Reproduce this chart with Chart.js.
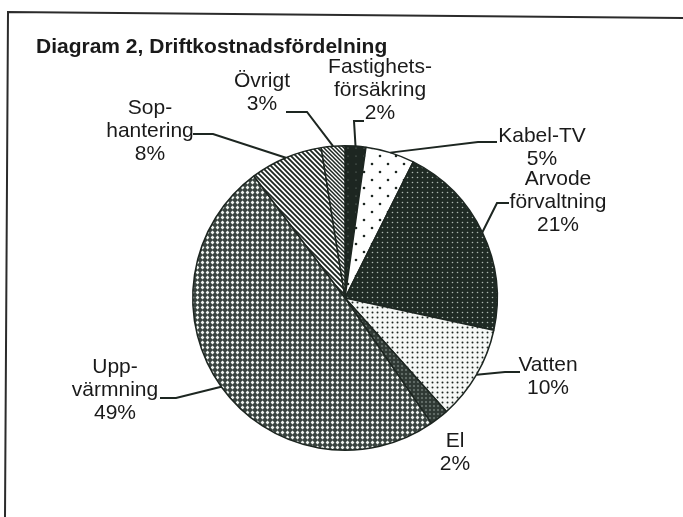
<!DOCTYPE html>
<html>
<head>
<meta charset="utf-8">
<script src="https://cdn.jsdelivr.net/npm/chart.js@4.4.0/dist/chart.umd.min.js"></script>
<style>
    html, body { margin: 0; padding: 0; background: #ffffff; }
    #driftChart { display: block; }
</style>
</head>
<body>
<canvas id="driftChart" width="683" height="517"></canvas>
<script>
// data
var categories = ['Fastighetsförsäkring', 'Kabel-TV', 'Arvode förvaltning', 'Vatten', 'El', 'Uppvärmning', 'Sophantering', 'Övrigt'];
var shares = [2.2, 5.2, 21.0, 10.0, 2.0, 49.4, 7.7, 2.5];
var percentLabels = ['2%', '5%', '21%', '10%', '2%', '49%', '8%', '3%'];
var labelLines = [
    ['Fastighets-', 'försäkring'],
    ['Kabel-TV'],
    ['Arvode', 'förvaltning'],
    ['Vatten'],
    ['El'],
    ['Upp-', 'värmning'],
    ['Sop-', 'hantering'],
    ['Övrigt'],
];
var chartTitle = 'Diagram 2, Driftkostnadsfördelning';

// where each label sits: text centre x, first line y, leader elbow and text-side end
var labelLayout = [
    { tx: 380, ty: 67, ex: 354, ey: 121, hx: 364 },
    { tx: 542, ty: 136, ex: 478, ey: 142, hx: 497 },
    { tx: 558, ty: 179, ex: 497, ey: 203, hx: 509 },
    { tx: 548, ty: 365, ex: 505, ey: 372, hx: 520 },
    { tx: 455, ty: 441, ex: null },
    { tx: 115, ty: 367, ex: 176, ey: 398, hx: 160 },
    { tx: 150, ty: 108, ex: 213, ey: 134, hx: 193 },
    { tx: 262, ty: 81, ex: 307, ey: 112, hx: 286 },
];

var ink = '#1d2621';

function makeTile(size, draw) {
    var c = document.createElement('canvas');
    c.width = size;
    c.height = size;
    var t = c.getContext('2d');
    draw(t, size);
    return document.createElement('canvas').getContext('2d').createPattern(c, 'repeat');
}

function dotTile(size, bg, fg, r, pts) {
    return makeTile(size, function (t, s) {
        t.fillStyle = bg;
        t.fillRect(0, 0, s, s);
        t.fillStyle = fg;
        pts.forEach(function (p) {
            t.beginPath();
            t.arc(p[0], p[1], r, 0, Math.PI * 2);
            t.fill();
        });
    });
}

function stripeTile(size, width) {
    return makeTile(size, function (t, s) {
        t.fillStyle = '#ffffff';
        t.fillRect(0, 0, s, s);
        t.strokeStyle = ink;
        t.lineWidth = width;
        t.beginPath();
        for (var k = -s; k <= s; k += s) {
            t.moveTo(k - 1, -1);
            t.lineTo(k + s + 1, s + 1);
        }
        t.stroke();
    });
}

function diamondTile(size, bg, fg, r) {
    return makeTile(size, function (t, s) {
        t.fillStyle = bg;
        t.fillRect(0, 0, s, s);
        t.fillStyle = fg;
        var c = s / 2;
        t.beginPath();
        t.moveTo(c, c - r);
        t.lineTo(c + r, c);
        t.lineTo(c, c + r);
        t.lineTo(c - r, c);
        t.closePath();
        t.fill();
    });
}

var fills = [
    dotTile(8, ink, '#7f8d85', 0.6, [[4, 4]]),
    dotTile(16, '#ffffff', ink, 1.3, [[4, 4], [12, 12]]),
    dotTile(5, '#1f2a24', '#aab6ae', 0.8, [[2.5, 2.5]]),
    dotTile(5, '#f5f7f5', ink, 1.0, [[2.5, 2.5]]),
    diamondTile(4, '#2f3934', '#76817b', 1.2),
    diamondTile(5, '#3a4440', '#eef2ee', 1.9),
    stripeTile(5, 1.8),
    stripeTile(4, 1.5),
];

// frame, title, labels and leader lines
var decorPlugin = {
    id: 'decor',
    beforeDraw: function (chart) {
        var ctx = chart.ctx;
        ctx.save();
        ctx.fillStyle = '#ffffff';
        ctx.fillRect(0, 0, chart.width, chart.height);
        ctx.strokeStyle = '#2b2b2b';
        ctx.lineWidth = 2;
        ctx.beginPath();
        ctx.moveTo(5, 517);
        ctx.lineTo(8, 12);
        ctx.lineTo(683, 18);
        ctx.stroke();
        ctx.fillStyle = '#1a1a1a';
        ctx.font = 'bold 21px "Liberation Sans", Arial, sans-serif';
        ctx.textAlign = 'left';
        ctx.textBaseline = 'alphabetic';
        ctx.fillText(chartTitle, 36, 53);
        ctx.restore();
    },
    afterDatasetsDraw: function (chart) {
        var ctx = chart.ctx;
        var arcs = chart.getDatasetMeta(0).data;
        ctx.save();
        ctx.font = '21px "Liberation Sans", Arial, sans-serif';
        ctx.fillStyle = '#1a1a1a';
        ctx.textAlign = 'center';
        ctx.textBaseline = 'middle';
        ctx.strokeStyle = ink;
        ctx.lineWidth = 2;
        labelLayout.forEach(function (pos, i) {
            var lines = labelLines[i].concat([percentLabels[i]]);
            lines.forEach(function (txt, j) {
                ctx.fillText(txt, pos.tx, pos.ty + j * 23);
            });
            if (pos.ex === null) {
                return;
            }
            var a = arcs[i].getProps(['x', 'y', 'startAngle', 'endAngle', 'outerRadius'], true);
            var mid = (a.startAngle + a.endAngle) / 2;
            ctx.beginPath();
            ctx.moveTo(pos.hx, pos.ey);
            ctx.lineTo(pos.ex, pos.ey);
            ctx.lineTo(a.x + Math.cos(mid) * a.outerRadius, a.y + Math.sin(mid) * a.outerRadius);
            ctx.stroke();
        });
        ctx.restore();
    },
};

var ctxDrift = document.getElementById('driftChart').getContext('2d');
var driftChart = new Chart(ctxDrift, {
    type: 'pie',
    data: {
        labels: categories,
        datasets: [
            {
                data: shares,
                backgroundColor: fills,
                borderColor: ink,
                borderWidth: 1.5,
            },
        ],
    },
    options: {
        responsive: false,
        animation: false,
        layout: {
            padding: { left: 192, right: 185, top: 145, bottom: 66 },
        },
        plugins: {
            legend: { display: false },
            tooltip: { enabled: false },
            title: { display: false },
        },
    },
    plugins: [decorPlugin],
});
</script>
</body>
</html>
